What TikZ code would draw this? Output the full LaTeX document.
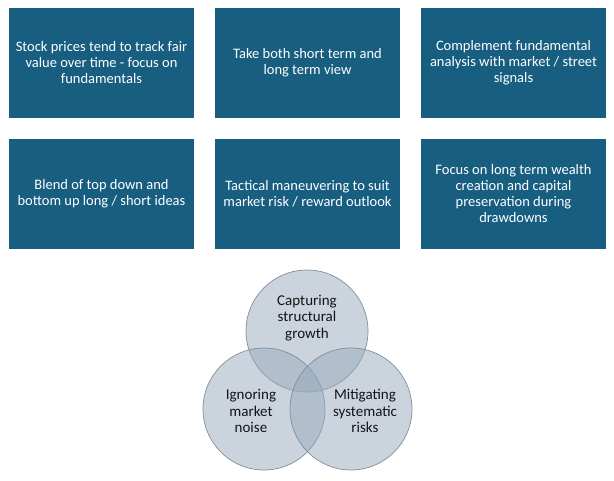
\documentclass[tikz,border=0pt]{standalone}
\usepackage{fontspec}
\setmainfont{Carlito}
\definecolor{boxblue}{RGB}{23,94,128}
\definecolor{vennfill}{RGB}{151,169,187}
\definecolor{vennline}{RGB}{128,142,156}
\definecolor{venntext}{RGB}{20,20,20}
\begin{document}
\begin{tikzpicture}[x=1pt,y=-1pt,
  infobox/.style={fill=boxblue,draw=none,minimum width=185pt,minimum height=110pt,
    text=white,align=center,inner sep=0pt,font=\fontsize{14.5pt}{16pt}\selectfont},
  venn/.style={circle,minimum size=122pt,inner sep=0pt,fill=vennfill,fill opacity=0.5,
    draw=vennline,draw opacity=1,line width=0.7pt},
  vennlabel/.style={align=center,text=venntext,inner sep=0pt,font=\fontsize{15pt}{16.6pt}\selectfont}]
\useasboundingbox (0,0) rectangle (614,481);
\node[infobox] (b1) at (101.5,63) {Stock prices tend to track fair\\value over time - focus on\\fundamentals};
\node[infobox] (b2) at (307.5,63) {Take both short term and\\long term view};
\node[infobox] (b3) at (513.5,63) {Complement fundamental\\analysis with market / street\\signals};
\node[infobox] (b4) at (101.5,194) {Blend of top down and\\bottom up long / short ideas};
\node[infobox] (b5) at (307.5,194) {Tactical maneuvering to suit\\market risk / reward outlook};
\node[infobox] (b6) at (513.5,194) {Focus on long term wealth\\creation and capital\\preservation during\\drawdowns};
\node[venn] (ctop) at (307,331) {};
\node[venn] (cleft) at (264,409) {};
\node[venn] (cright) at (351,409) {};
\node[vennlabel] (ltop) at (307,318) {Capturing\\structural\\growth};
\node[vennlabel] (lleft) at (251,411) {Ignoring\\market\\noise};
\node[vennlabel] (lright) at (365,411) {Mitigating\\systematic\\risks};
\end{tikzpicture}
\end{document}
